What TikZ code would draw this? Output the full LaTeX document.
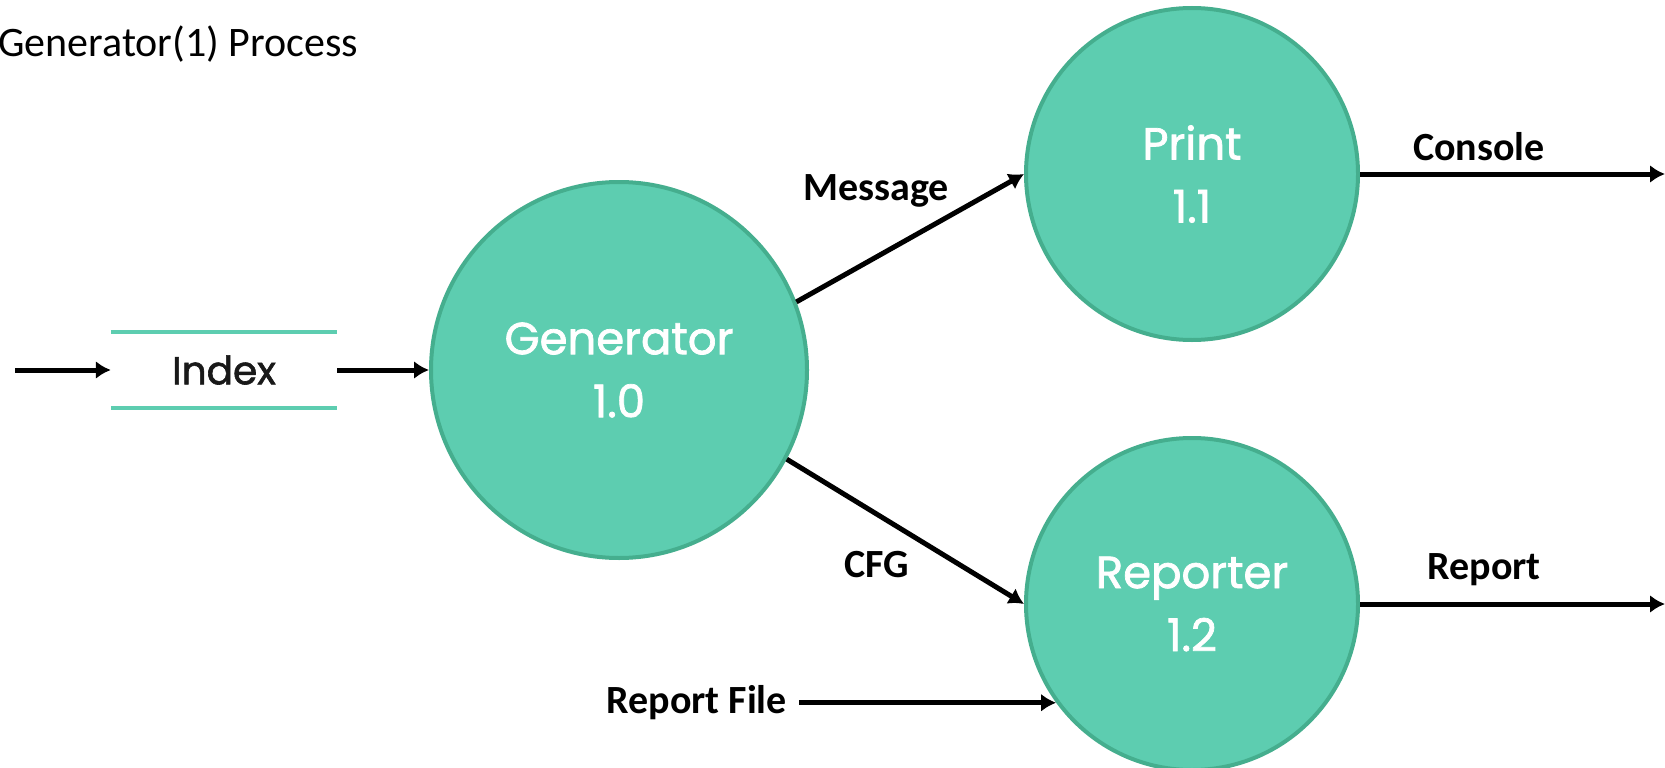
\documentclass[tikz,border=0pt]{standalone}
\usepackage{fontspec}
\setmainfont{Carlito}
\newfontfamily\procfont[FakeBold=1.6]{Poppins}
\usetikzlibrary{arrows.meta,positioning}
\definecolor{procfill}{HTML}{5DCDB0}
\definecolor{procline}{HTML}{45AE8E}

\begin{document}
\begin{tikzpicture}[
          x=1pt, y=-1pt,
          process/.style={
            circle,
            draw=procline,
            line width=4pt,
            fill=procfill,
            text=white,
            align=center,
            inner sep=0pt,
            font=\procfont\fontsize{45}{63}\selectfont,
          },
          store/.style={
            minimum width=226pt,
            minimum height=75pt,
            inner sep=0pt,
            text=black!90,
            font=\procfont\fontsize{39}{48}\selectfont,
          },
          storeline/.style={draw=procfill, line width=4pt},
          flowlabel/.style={inner sep=12pt, font=\bfseries\fontsize{40}{48}\selectfont},
          flow/.style={-{Latex[length=15pt,width=18pt]}, line width=5pt},
        ]
          \useasboundingbox (0,0) rectangle (1665,768);

          % title
          \node[anchor=base west, inner sep=0pt, font=\fontsize{42}{50}\selectfont]
            (title) at (-2,57) {Generator(1) Process};

          % data store and processes
          \node[store] (idx) at (224,370) {Index};
          \node[process, minimum size=376pt] (gen) at (619,370) {Generator\\1.0};
          \node[process, minimum size=332pt] (print) at (1192,174) {Print\\1.1};
          \node[process, minimum size=332pt] (rep) at (1192,604) {Reporter\\1.2};

          \draw[storeline] (idx.north west) -- (idx.north east);
          \draw[storeline] (idx.south west) -- (idx.south east);

          % free ends
          \coordinate (in) at (15,370);
          \coordinate (console) at (1665,174);
          \coordinate (report) at (1665,604);
          \node[flowlabel, left=257pt of rep.216.6] (rfile) {Report File};

          % labels
          \node[flowlabel] (lmsg) at (876,191) {Message};
          \node[flowlabel] (lcfg) at (877,565) {CFG};
          \node[flowlabel] (lcon) at (1479,147) {Console};
          \node[flowlabel] (lrep) at (1484,570) {Report};

          \draw
              (in) edge [flow] (idx)
              (idx) edge [flow] (gen)
              (gen.21) edge [flow] (print.west)
              (gen.-28) edge [flow] (rep.west)
              (print.east) edge [flow] (console)
              (rep.east) edge [flow] (report)
              (rfile.east) edge [flow] (rep.216.6);
        \end{tikzpicture}
\end{document}
